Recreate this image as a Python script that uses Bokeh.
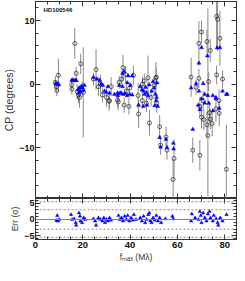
from bokeh.plotting import figure
from bokeh.layouts import column
from bokeh.models import (ColumnDataSource, LinearAxis, Span, Label, FixedTicker, Range1d,
                          CustomJSTickFormatter)
from bokeh.embed import file_html
from bokeh.resources import INLINE

# ---- data ----
f_data = [8.4, 9.7, 9.0, 8.8,
          16.6, 17.2, 19.1, 20.2, 15.3, 15.4, 17.6, 18.2, 18.6, 19.8,
          24.5, 25.6, 26.6, 27.5, 28.3, 30.0, 31.1, 31.3, 32.0, 34.7, 35.0, 35.4,
          36.5, 37.0, 37.5, 38.1, 38.4, 39.5, 39.8, 41.4,
          43.4, 43.6, 45.2, 45.2, 46.0, 46.9, 47.6, 48.2, 48.9, 50.2, 50.9, 51.3,
          51.1, 52.5, 52.9, 55.2, 55.6, 58.6, 58.2,
          65.8, 66.5, 67.9, 69.1, 69.1, 69.5, 69.5, 70.2, 70.2, 70.9, 71.2, 72.5,
          72.5, 72.9, 73.2, 73.6, 73.9, 73.9, 74.7, 76.3, 76.6, 77.0, 76.6, 77.6,
          77.7, 78.0, 79.1, 80.7]
cp_data = [0.3, 1.4, -1.0, -0.4,
           6.4, 1.7, 3.2, -1.3, -0.1, -0.8, -1.2, -1.7, -2.1, -0.8,
           0.8, 2.3, -0.4, 0.0, -1.7, -2.1, -2.7, -2.6, -0.4, -2.5, -2.8, 0.3,
           0.8, 2.6, -3.3, 1.5, -1.1, -3.5, -0.6, 1.4,
           -1.8, -4.7, 0.0, -2.6, 0.5, -3.0, 1.0, -6.1, -2.1, -0.2, 1.0, -3.0,
           1.1, -6.7, -9.6, -8.3, -10.4, -11.7, -15.0,
           1.1, -10.4, -0.5, 6.4, 0.9, -3.5, -11.2, 8.2, -5.2, -2.6, -5.6, 6.7,
           -6.4, -8.1, 0.4, -4.5, 5.3, -5.5, -6.2, -3.9, 10.7, 10.2, 1.45, -2.6,
           -4.6, 7.2, 0.8, -13.4]
cp_err = [1.0, 2.6, 0.9, 0.8,
          2.4, 1.0, 1.6, 7.1, 0.8, 0.9, 1.2, 1.3, 1.6, 1.2,
          1.0, 3.2, 1.5, 1.5, 1.2, 1.5, 1.5, 1.2, 1.5, 1.2, 1.3, 1.0,
          1.2, 2.0, 1.2, 1.3, 1.0, 1.3, 1.0, 1.5,
          2.0, 2.2, 1.2, 1.3, 1.2, 1.4, 3.5, 2.0, 1.3, 1.2, 2.5, 1.5,
          1.5, 1.8, 1.5, 1.6, 1.5, 3.0, 3.2,
          3.1, 2.0, 1.2, 3.5, 1.5, 1.5, 2.4, 1.8, 1.8, 1.5, 1.6, 1.8,
          2.0, 20.0, 1.5, 1.5, 1.8, 1.6, 2.0, 2.0, 5.0, 5.0, 1.5, 1.8,
          2.0, 4.3, 1.4, 7.0]

f_model = [8.5, 9.0, 9.5, 9.9,
           15.3, 15.8, 16.3, 16.9, 17.3, 18.0, 18.3, 18.5, 19.0, 19.4, 19.8, 20.3, 20.7,
           24.5, 25.9, 27.2, 27.8, 28.5, 29.2, 29.9, 30.6, 31.3, 33.4, 34.7, 34.8,
           35.4, 35.4, 36.1, 36.8, 36.8, 37.0, 37.4, 37.9, 38.8, 38.8, 39.2, 39.8,
           40.2, 40.9, 40.9,
           43.6, 44.3, 45.0, 45.6, 45.7, 46.1, 46.6, 47.0, 47.1, 47.6, 48.1, 49.1,
           49.7, 50.1, 50.4, 50.7, 51.0, 51.2, 51.4, 51.7, 52.5, 52.9, 55.2, 55.6,
           58.3, 58.4,
           65.8, 66.5, 67.9, 68.8, 69.1, 69.1, 69.5, 70.2, 70.2, 70.9, 71.6, 71.6,
           72.7, 72.9, 73.3, 75.0, 75.0, 76.3, 76.3, 76.8, 77.7, 78.0, 79.1, 80.7, 81.1]
cp_model = [0.1, 0.0, 0.05, -0.1,
            0.6, 0.65, 0.55, 0.6, 0.55, -0.9, -1.4, -0.6, -1.2, -0.3, -0.6, -1.0, -0.2,
            1.06, 0.8, 0.6, 0.0, -0.2, -1.1, -1.3, -0.4, -1.4, -1.6, -1.4, -1.8,
            -1.5, -0.2, -1.35, 1.7, -0.4, -1.6, 2.0, -1.5, -1.8, 0.2, 1.3, -1.6,
            -0.2, -1.7, 1.3,
            -3.3, -0.4, -0.9, -3.5, -1.1, -1.6, -0.5, -1.35, -3.3, -1.8, -0.1, -1.1,
            0.4, -0.6, -3.4, -1.6, -2.6, -2.1, 0.2, -3.5, -8.4, -9.9, -8.7, -10.0,
            -9.3, -10.2,
            -0.6, -7.1, 0.1, -3.3, 3.3, -1.1, -4.0, 5.75, -2.3, 0.1, -3.0, -1.6,
            4.45, -1.8, -3.0, -4.2, -1.8, -2.1, -2.3, 5.7, -3.8, 5.75, -1.1, -1.6, -1.6]

f_res = [9.2, 8.8, 9.5, 10.0,
         15.0, 15.5, 16.4, 17.0, 17.2, 18.4, 18.8, 19.0, 19.7, 20.4, 21.0,
         24.5, 25.2, 25.6, 26.6, 27.5, 28.3, 28.9, 29.4, 30.0, 30.6, 31.3, 31.9,
         35.1, 35.7, 36.4, 37.0, 37.7, 38.4, 39.0, 39.7, 40.4, 41.1, 41.6, 42.5,
         44.3, 45.0, 45.7, 46.4, 47.0, 47.7, 48.1, 48.6, 49.1, 49.7, 50.4, 51.1,
         51.8, 52.5, 53.1, 54.9, 57.9, 58.2,
         66.1, 65.8, 67.5, 68.9, 69.5, 69.9, 70.2, 70.9, 71.6, 72.3, 72.9, 73.6,
         74.0, 75.0, 75.4, 76.4, 77.0, 77.3, 78.1, 79.1, 80.8]
res = [1.2, -0.3, -0.5, 0.0,
       1.5, 0.0, 0.2, -1.0, -1.8, 2.0, 1.0, -0.5, -1.0, 0.5, 0.0,
       0.2, -0.5, -1.8, 0.5, 0.0, -0.5, 0.5, -1.0, 0.0, -0.5, 0.5, -0.2,
       1.2, 0.0, 0.5, -0.5, 1.0, 0.0, 1.2, -0.5, 0.5, -0.2, 1.5, 0.0,
       0.5, -0.5, 1.0, -1.0, 0.0, 1.5, 2.0, -0.5, -1.0, 0.5, -0.2, 1.2,
       -0.5, 0.5, -1.0, 0.2, 1.0, 0.2,
       1.7, -0.5, 0.5, 0.0, 2.5, 1.2, -1.0, 2.0, 0.5, -0.5, 1.7, 2.5,
       0.5, -0.5, 1.2, 0.2, -1.0, -1.8, 0.5, -0.5, 1.5]

sigma_lines = [-5.5, -3, 3, 5.5]
x_ticks = [0, 20, 40, 60, 80]
cp_ticks = [-10, 0, 10]
err_ticks = [-5, 0, 5]

# ---- helpers ----
AXC = "#333333"


def style_axis(ax, show_labels=True):
    ax.major_tick_in = 5
    ax.major_tick_out = 0
    ax.minor_tick_in = 3
    ax.minor_tick_out = 0
    ax.axis_line_color = AXC
    ax.major_tick_line_color = AXC
    ax.minor_tick_line_color = AXC
    ax.major_label_text_font = "Liberation Sans"
    ax.major_label_text_font_style = "bold"
    ax.major_label_text_font_size = "9px"
    ax.major_label_text_color = "#111111"
    ax.major_label_standoff = 1
    ax.axis_label_standoff = 1
    ax.axis_label_text_font = "Liberation Sans"
    ax.axis_label_text_font_style = "normal"
    ax.axis_label_text_color = "#333333"
    if not show_labels:
        ax.formatter = CustomJSTickFormatter(code="return ''")
        ax.major_label_standoff = 0


xt = FixedTicker(ticks=x_ticks, minor_ticks=list(range(0, 90, 5)))
yt1 = FixedTicker(ticks=cp_ticks, minor_ticks=list(range(-18, 14, 2)))
yt2 = FixedTicker(ticks=err_ticks, minor_ticks=list(range(-6, 7, 1)))

W = 237
LB = 31

# ---- top panel ----
p1 = figure(width=W, height=198, output_backend="svg", toolbar_location=None,
            x_range=Range1d(0, 85), y_range=Range1d(-18, 13),
            min_border_left=LB, min_border_right=1, min_border_top=1, min_border_bottom=0,
            x_axis_location=None, y_axis_label="CP (degrees)")
p1.outline_line_color = AXC
p1.grid.visible = False
p1.background_fill_color = "white"

style_axis(p1.yaxis[0])
p1.yaxis[0].ticker = yt1
p1.yaxis[0].axis_label_text_font_size = "10.5px"

for loc, tk in (("below", xt), ("above", xt)):
    a = LinearAxis(ticker=tk)
    style_axis(a, show_labels=False)
    p1.add_layout(a, loc)
ar = LinearAxis(ticker=yt1)
style_axis(ar, show_labels=False)
p1.add_layout(ar, "right")

src = ColumnDataSource(dict(
    f=f_data, cp=cp_data,
    lo=[c - e for c, e in zip(cp_data, cp_err)],
    hi=[c + e for c, e in zip(cp_data, cp_err)]))
p1.segment(x0="f", y0="lo", x1="f", y1="hi", source=src, line_color="#8a8a8a", line_width=1)
p1.scatter(x="f", y="cp", source=src, marker="circle", size=4, fill_color="white",
           fill_alpha=0.0, line_color="#222222", line_width=0.7)
p1.scatter(x=f_model, y=cp_model, marker="triangle", size=4, fill_color="#0000ff",
           line_color="#0000ff", line_width=0.4)

p1.add_layout(Label(x=3.4, y=11.6, text="HD100546", text_font="Liberation Sans",
                    text_font_size="6px", text_font_style="bold", text_baseline="middle",
                    text_color="#111111"))

# ---- bottom panel ----
p2 = figure(width=W, height=66, output_backend="svg", toolbar_location=None,
            x_range=p1.x_range, y_range=Range1d(-6.2, 6.5),
            min_border_left=LB, min_border_right=1, min_border_top=0, min_border_bottom=0,
            x_axis_label="f\u2098\u2090\u2093 (M\u03bb)", y_axis_label="Err (\u03c3)")
p2.outline_line_color = AXC
p2.grid.visible = False

style_axis(p2.xaxis[0])
p2.xaxis[0].ticker = xt
p2.xaxis[0].major_label_text_font_size = "9.5px"
p2.xaxis[0].axis_label_text_font_size = "8.5px"
p2.xaxis[0].major_label_standoff = 2
style_axis(p2.yaxis[0])
p2.yaxis[0].ticker = yt2
p2.yaxis[0].axis_label_text_font_size = "8.5px"

a2t = LinearAxis(ticker=xt)
style_axis(a2t, show_labels=False)
p2.add_layout(a2t, "above")
a2r = LinearAxis(ticker=yt2)
style_axis(a2r, show_labels=False)
p2.add_layout(a2r, "right")

p2.add_layout(Span(location=0, dimension="width", line_color="#808080", line_width=1))
for s in sigma_lines:
    p2.add_layout(Span(location=s, dimension="width", line_color="#666666",
                       line_width=0.8, line_dash="2 2"))

p2.scatter(x=f_res, y=res, marker="triangle", size=3.5, fill_color="#0000ff",
           line_color="#0000ff", line_width=0.4)

layout = column(p1, p2, spacing=0)
open("out.html", "w").write(file_html(layout, INLINE))
